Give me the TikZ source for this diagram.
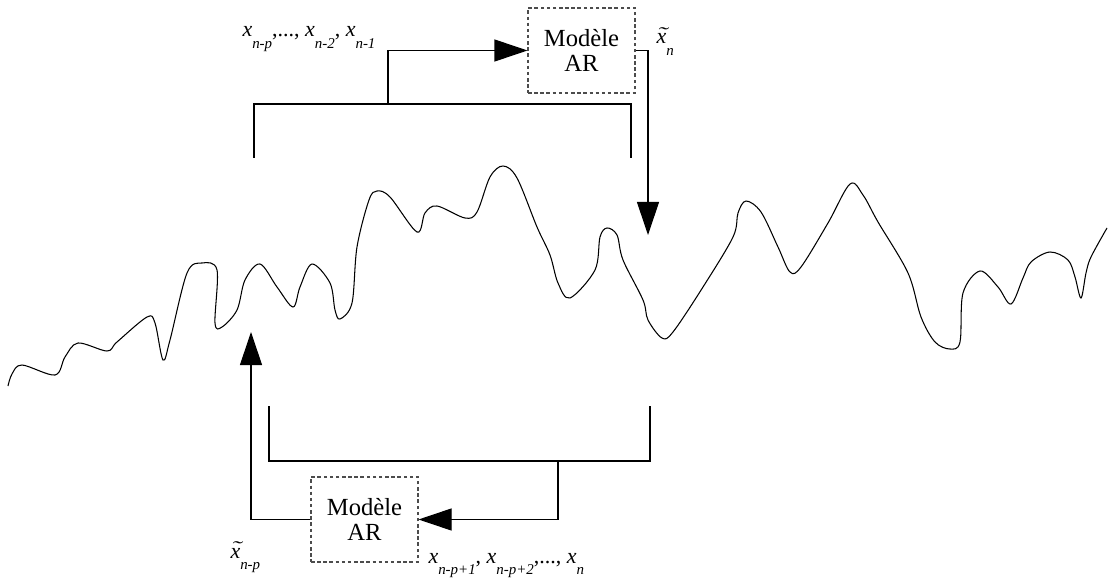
\documentclass[tikz,border=0pt]{standalone}
\usepackage{fontspec}
\setmainfont{Liberation Serif}
\newcommand{\xsub}[1]{\textit{x}\raisebox{-6.5pt}{\fontsize{8.5}{9}\selectfont\textit{#1}}}
\newcommand{\xtsub}[1]{\textit{\makebox[0pt][l]{\hspace{0.4pt}\raisebox{2.8pt}{\scalebox{1.4}[0.8]{\char"02DC}}}x}\raisebox{-6.8pt}{\fontsize{8.5}{9}\selectfont\textit{#1}}}
\usetikzlibrary{arrows.meta}

\begin{document}
\begin{tikzpicture}[x=0.2mm,y=-0.2mm,line width=0.6pt,
    arbox/.style={draw=black!70,dash pattern=on 2pt off 1.5pt,minimum width=21.4mm,minimum height=17mm,
        inner sep=0pt,align=center,font=\fontsize{14}{14.5}\selectfont},
    lbl/.style={anchor=base west,inner sep=0pt,font=\fontsize{12.5}{14}\selectfont},
    fleche/.style={-{Triangle[length=6.6mm,width=4.4mm]}}]
    \useasboundingbox (0,0) rectangle (1108,581);

    % signal
    \draw plot[smooth,tension=0.55] coordinates {
        (8,386) (12,374) (22,365) (55,375) (65,357) (78,343) (107,351) (117,342) (147,317)
        (155,323) (163,360) (170,340) (187,273) (202,263) (217,270) (215,323) (222,327)
        (237,310) (245,280) (260,264) (277,287) (293,307) (300,287) (312,264) (330,283)
        (335,310) (340,319) (352,303) (357,247) (369,200) (377,191) (390,197) (417,232)
        (425,213) (437,206) (465,218) (477,212) (490,177) (503,166) (517,178) (537,227)
        (550,255) (558,283) (570,298) (595,270) (600,237) (607,228) (617,235) (623,260)
        (643,300) (648,320) (662,338) (673,332) (703,287) (733,237) (738,213) (746,201)
        (761,212) (778,247) (790,272) (801,267) (828,223) (850,184) (863,195) (878,222)
        (908,273) (921,317) (935,342) (950,349) (960,342) (963,293) (980,271) (998,287)
        (1011,304) (1023,278) (1031,262) (1050,252) (1068,260) (1075,277) (1081,298)
        (1086,273) (1091,257) (1107,228)};

    \node[arbox] (ar1) at (581.5,50.5) {Modèle\\AR};
    \node[arbox] (ar2) at (364.5,519.5) {Modèle\\AR};

    % prediction avant
    \coordinate (g1) at (254,158);
    \coordinate (d1) at (631,158);
    \coordinate (m1) at (388,104);
    \coordinate (p1) at (648,235);
    \draw (g1) |- (m1) -| (d1);
    \draw[fleche] (m1) |- (ar1.west);
    \draw[fleche] (ar1.east) -| (p1);

    % prediction arriere
    \coordinate (g2) at (269,406);
    \coordinate (d2) at (650,406);
    \coordinate (m2) at (558,461);
    \coordinate (p2) at (251,332);
    \draw (g2) |- (m2) -| (d2);
    \draw[fleche] (m2) |- (ar2.east);
    \draw[fleche] (ar2.west) -| (p2);

    \node[lbl] (xin) at (242,37) {\xsub{n-p},..., \xsub{n-2}, \xsub{n-1}};
    \node[lbl] (xn) at (656,44) {\xtsub{n}};
    \node[lbl] (xnp) at (230,558) {\xtsub{n-p}};
    \node[lbl] (xout) at (428,563) {\xsub{n-p+1}, \xsub{n-p+2},..., \xsub{n}};
\end{tikzpicture}
\end{document}
